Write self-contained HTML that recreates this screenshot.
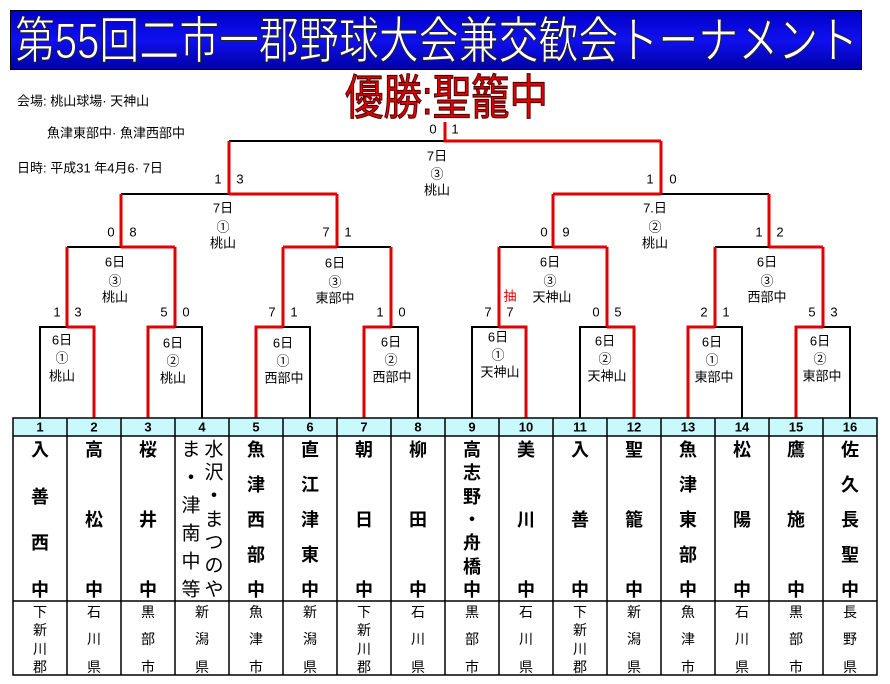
<!DOCTYPE html>
<html><head><meta charset="utf-8"><style>
html,body{margin:0;padding:0;background:#fff;}
svg{display:block;}
text{font-family:"Liberation Sans","Noto Sans CJK JP",sans-serif;}
.s{font-size:13px;fill:#000;}
.n{font-size:18px;font-weight:bold;fill:#000;}
.p{font-size:14px;fill:#000;}
.h{font-size:13px;font-weight:bold;fill:#000;}
</style></head><body>
<svg width="890" height="684" viewBox="0 0 890 684" xmlns="http://www.w3.org/2000/svg">
<defs>
<linearGradient id="bg" x1="0" y1="0" x2="0" y2="1">
<stop offset="0" stop-color="#0000c8"/><stop offset="0.5" stop-color="#1010f0"/><stop offset="1" stop-color="#0000a8"/>
</linearGradient>
</defs>
<rect x="10.5" y="10.5" width="851" height="59" fill="url(#bg)" stroke="#000" stroke-width="1"/>
<text x="15" y="58" font-size="50" fill="#fff" stroke="#222" stroke-width="1" textLength="843" lengthAdjust="spacingAndGlyphs" style="font-family:'Liberation Sans','Noto Sans CJK JP',sans-serif">第55回二市一郡野球大会兼交歓会トーナメント</text>
<text x="345" y="114" font-size="48" fill="#e00000" stroke="#500" stroke-width="1.2" textLength="203" lengthAdjust="spacingAndGlyphs">優勝:聖籠中</text>

<g class="s" dominant-baseline="central">
<text x="17" y="101" class="s">会場: 桃山球場· 天神山</text>
<text x="47" y="133" class="s">魚津東部中· 魚津西部中</text>
<text x="17" y="168" class="s">日時: 平成31 年4月6· 7日</text>
</g>

<g stroke="#000" stroke-width="2" fill="none">
<path d="M40 418V327H67 M202 418V327H175 M310 418V327H283 M418 418V327H391 M472 418V327H499 M580 418V327H607 M742 418V327H715 M850 418V327H823"/>
<path d="M67 247H121 M391 247H337 M499 247H553 M715 247H769"/>
<path d="M121 194H229 M769 194H661"/>
<path d="M229 141H445"/>
</g>
<g stroke="#e00000" stroke-width="3" fill="none">
<path d="M94 418V327H67 M148 418V327H175 M256 418V327H283 M364 418V327H391 M526 418V327H499 M634 418V327H607 M688 418V327H715 M796 418V327H823"/>
<path d="M67 327V247 M175 327V247 M283 327V247 M391 327V247 M499 327V247 M607 327V247 M715 327V247 M823 327V247"/>
<path d="M175 247H121 M283 247H337 M607 247H553 M823 247H769"/>
<path d="M121 247V194 M337 247V194 M553 247V194 M769 247V194"/>
<path d="M337 194H229 M553 194H661"/>
<path d="M229 194V141 M661 194V141"/>
<path d="M661 141H445V122"/>
</g>

<g class="s" text-anchor="middle" dominant-baseline="central">
<text x="57" y="312">1</text><text x="78" y="312">3</text>
<text x="164" y="312">5</text><text x="186" y="312">0</text>
<text x="272" y="312">7</text><text x="294" y="312">1</text>
<text x="380" y="312">1</text><text x="402" y="312">0</text>
<text x="488" y="312">7</text><text x="510" y="312">7</text>
<text x="596" y="312">0</text><text x="618" y="312">5</text>
<text x="704" y="312">2</text><text x="726" y="312">1</text>
<text x="812" y="312">5</text><text x="834" y="312">3</text>
<text x="111" y="232">0</text><text x="133" y="232">8</text>
<text x="326" y="232">7</text><text x="348" y="232">1</text>
<text x="544" y="232">0</text><text x="566" y="232">9</text>
<text x="759" y="232">1</text><text x="780" y="232">2</text>
<text x="218" y="179">1</text><text x="240" y="179">3</text>
<text x="650" y="179">1</text><text x="673" y="179">0</text>
<text x="433" y="129">0</text><text x="455" y="129">1</text>
<text x="510" y="296" style="fill:#e00000">抽</text>
</g>

<g class="s" text-anchor="middle" dominant-baseline="central">
<text x="437" y="156">7日</text><text x="437" y="174">③</text><text x="437" y="190">桃山</text>
<text x="223" y="208">7日</text><text x="223" y="227">①</text><text x="223" y="243">桃山</text>
<text x="655" y="208">7.日</text><text x="655" y="227">②</text><text x="655" y="243">桃山</text>
<text x="115" y="262">6日</text><text x="115" y="281">③</text><text x="115" y="297">桃山</text>
<text x="335" y="263">6日</text><text x="335" y="282">③</text><text x="335" y="298">東部中</text>
<text x="550" y="262">6日</text><text x="550" y="281">③</text><text x="552" y="297">天神山</text>
<text x="767" y="262">6日</text><text x="767" y="281">③</text><text x="767" y="297">西部中</text>
<text x="62" y="340">6日</text><text x="62" y="358">①</text><text x="62" y="376">桃山</text>
<text x="173" y="343">6日</text><text x="173" y="361">②</text><text x="173" y="378">桃山</text>
<text x="283" y="343">6日</text><text x="283" y="361">①</text><text x="284" y="378">西部中</text>
<text x="391" y="342">6日</text><text x="391" y="360">②</text><text x="392" y="377">西部中</text>
<text x="498" y="337">6日</text><text x="498" y="355">①</text><text x="500" y="372">天神山</text>
<text x="605" y="341">6日</text><text x="605" y="359">②</text><text x="607" y="376">天神山</text>
<text x="712" y="342">6日</text><text x="712" y="360">①</text><text x="714" y="377">東部中</text>
<text x="820" y="341">6日</text><text x="820" y="359">②</text><text x="822" y="376">東部中</text>
</g>

<rect x="13" y="418" width="864" height="18" fill="#c8fafd"/>
<g stroke="#000" stroke-width="1.5" fill="none">
<rect x="13" y="418" width="864" height="257"/>
<path d="M13 436H877 M13 601H877"/>
<path d="M67 418V675 M121 418V675 M175 418V675 M229 418V675 M283 418V675 M337 418V675 M391 418V675 M445 418V675 M499 418V675 M553 418V675 M607 418V675 M661 418V675 M715 418V675 M769 418V675 M823 418V675"/>
</g>
<g class="h" text-anchor="middle" dominant-baseline="central">
<text x="40" y="427">1</text><text x="94" y="427">2</text><text x="148" y="427">3</text><text x="202" y="427">4</text>
<text x="256" y="427">5</text><text x="310" y="427">6</text><text x="364" y="427">7</text><text x="418" y="427">8</text>
<text x="472" y="427">9</text><text x="526" y="427">10</text><text x="580" y="427">11</text><text x="634" y="427">12</text>
<text x="688" y="427">13</text><text x="742" y="427">14</text><text x="796" y="427">15</text><text x="850" y="427">16</text>
</g>
<g class="n" text-anchor="middle" dominant-baseline="central">
<text x="40" y="450">入</text><text x="40" y="497">善</text><text x="40" y="543">西</text><text x="40" y="590">中</text>
<text x="94" y="450">高</text><text x="94" y="520">松</text><text x="94" y="590">中</text>
<text x="148" y="450">桜</text><text x="148" y="520">井</text><text x="148" y="590">中</text>
<text x="191" y="450" style="font-weight:normal;font-size:19px">ま</text><text x="191" y="478">・</text><text x="191" y="506" style="font-weight:normal;font-size:19px">津</text><text x="191" y="534" style="font-weight:normal;font-size:19px">南</text><text x="191" y="562" style="font-weight:normal;font-size:19px">中</text><text x="191" y="590" style="font-weight:normal;font-size:19px">等</text>
<text x="214" y="450" style="font-weight:normal;font-size:19px">水</text><text x="214" y="473" style="font-weight:normal;font-size:19px">沢</text><text x="214" y="496">・</text><text x="214" y="520" style="font-weight:normal;font-size:19px">ま</text><text x="214" y="543" style="font-weight:normal;font-size:19px">つ</text><text x="214" y="566" style="font-weight:normal;font-size:19px">の</text><text x="214" y="590" style="font-weight:normal;font-size:19px">や</text>
<text x="256" y="450">魚</text><text x="256" y="485">津</text><text x="256" y="520">西</text><text x="256" y="555">部</text><text x="256" y="590">中</text>
<text x="310" y="450">直</text><text x="310" y="485">江</text><text x="310" y="520">津</text><text x="310" y="555">東</text><text x="310" y="590">中</text>
<text x="364" y="450">朝</text><text x="364" y="520">日</text><text x="364" y="590">中</text>
<text x="418" y="450">柳</text><text x="418" y="520">田</text><text x="418" y="590">中</text>
<text x="472" y="450">高</text><text x="472" y="473">志</text><text x="472" y="497">野</text><text x="472" y="520">・</text><text x="472" y="543">舟</text><text x="472" y="567">橋</text><text x="472" y="590">中</text>
<text x="526" y="450">美</text><text x="526" y="520">川</text><text x="526" y="590">中</text>
<text x="580" y="450">入</text><text x="580" y="520">善</text><text x="580" y="590">中</text>
<text x="634" y="450">聖</text><text x="634" y="520">籠</text><text x="634" y="590">中</text>
<text x="688" y="450">魚</text><text x="688" y="485">津</text><text x="688" y="520">東</text><text x="688" y="555">部</text><text x="688" y="590">中</text>
<text x="742" y="450">松</text><text x="742" y="520">陽</text><text x="742" y="590">中</text>
<text x="796" y="450">鷹</text><text x="796" y="520">施</text><text x="796" y="590">中</text>
<text x="850" y="450">佐</text><text x="850" y="485">久</text><text x="850" y="520">長</text><text x="850" y="555">聖</text><text x="850" y="590">中</text>
</g>
<g class="p" text-anchor="middle" dominant-baseline="central">
<text x="40" y="612">下</text><text x="40" y="630">新</text><text x="40" y="649">川</text><text x="40" y="667">郡</text>
<text x="94" y="612">石</text><text x="94" y="639">川</text><text x="94" y="667">県</text>
<text x="148" y="612">黒</text><text x="148" y="639">部</text><text x="148" y="667">市</text>
<text x="202" y="612">新</text><text x="202" y="639">潟</text><text x="202" y="667">県</text>
<text x="256" y="612">魚</text><text x="256" y="639">津</text><text x="256" y="667">市</text>
<text x="310" y="612">新</text><text x="310" y="639">潟</text><text x="310" y="667">県</text>
<text x="364" y="612">下</text><text x="364" y="630">新</text><text x="364" y="649">川</text><text x="364" y="667">郡</text>
<text x="418" y="612">石</text><text x="418" y="639">川</text><text x="418" y="667">県</text>
<text x="472" y="612">黒</text><text x="472" y="639">部</text><text x="472" y="667">市</text>
<text x="526" y="612">石</text><text x="526" y="639">川</text><text x="526" y="667">県</text>
<text x="580" y="612">下</text><text x="580" y="630">新</text><text x="580" y="649">川</text><text x="580" y="667">郡</text>
<text x="634" y="612">新</text><text x="634" y="639">潟</text><text x="634" y="667">県</text>
<text x="688" y="612">魚</text><text x="688" y="639">津</text><text x="688" y="667">市</text>
<text x="742" y="612">石</text><text x="742" y="639">川</text><text x="742" y="667">県</text>
<text x="796" y="612">黒</text><text x="796" y="639">部</text><text x="796" y="667">市</text>
<text x="850" y="612">長</text><text x="850" y="639">野</text><text x="850" y="667">県</text>
</g>
</svg>
</body></html>
